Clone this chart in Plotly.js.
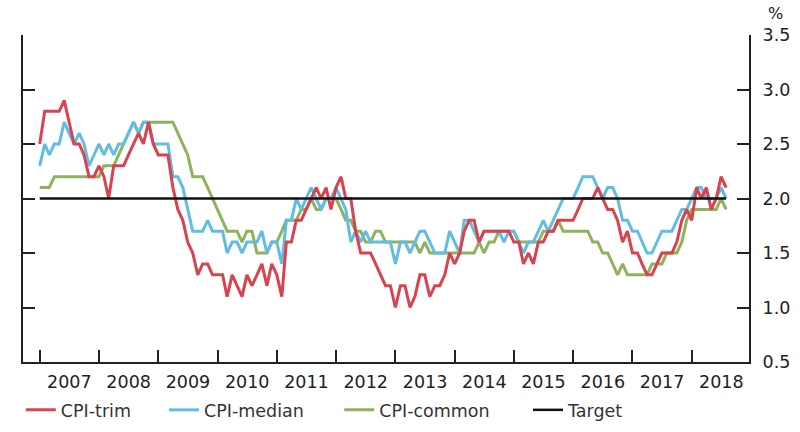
<!DOCTYPE html>
<html>
<head>
<meta charset="utf-8">
<script src="https://cdn.plot.ly/plotly-3.0.1.min.js"></script>
<style>html,body{margin:0;padding:0;background:#fff;}#chart{width:800px;height:432px;}</style>
</head>
<body>
<div id="chart"></div>
<script>
// Monthly observations, Jan 2007 onwards (%)
const startYear = 2007;
const cpiTrim = [
  2.5, 2.8, 2.8, 2.8, 2.8, 2.9, 2.7, 2.5, 2.5, 2.4, 2.2, 2.2,
  2.3, 2.2, 2.0, 2.3, 2.3, 2.3, 2.4, 2.5, 2.6, 2.5, 2.7, 2.5,
  2.4, 2.4, 2.4, 2.1, 1.9, 1.8, 1.6, 1.5, 1.3, 1.4, 1.4, 1.3,
  1.3, 1.3, 1.1, 1.3, 1.2, 1.1, 1.3, 1.2, 1.3, 1.4, 1.2, 1.4,
  1.3, 1.1, 1.6, 1.6, 1.8, 1.8, 1.9, 2.0, 2.1, 2.0, 2.1, 1.9,
  2.1, 2.2, 2.0, 2.0, 1.7, 1.5, 1.5, 1.5, 1.4, 1.3, 1.2, 1.2,
  1.0, 1.2, 1.2, 1.0, 1.1, 1.3, 1.3, 1.1, 1.2, 1.2, 1.3, 1.5,
  1.4, 1.5, 1.7, 1.8, 1.8, 1.6, 1.7, 1.7, 1.7, 1.7, 1.7, 1.7,
  1.6, 1.6, 1.4, 1.5, 1.4, 1.6, 1.6, 1.7, 1.7, 1.8, 1.8, 1.8,
  1.8, 1.9, 2.0, 2.0, 2.0, 2.1, 2.0, 1.9, 1.9, 1.8, 1.6, 1.7,
  1.5, 1.5, 1.4, 1.3, 1.3, 1.4, 1.5, 1.5, 1.5, 1.6, 1.8, 1.9,
  1.8, 2.1, 2.0, 2.1, 1.9, 2.0, 2.2, 2.1
];
const cpiMedian = [
  2.3, 2.5, 2.4, 2.5, 2.5, 2.7, 2.6, 2.5, 2.6, 2.5, 2.3, 2.4,
  2.5, 2.4, 2.5, 2.4, 2.5, 2.5, 2.6, 2.7, 2.6, 2.7, 2.7, 2.5,
  2.5, 2.5, 2.5, 2.2, 2.2, 2.1, 1.9, 1.7, 1.7, 1.7, 1.8, 1.7,
  1.7, 1.7, 1.5, 1.6, 1.6, 1.5, 1.6, 1.6, 1.6, 1.7, 1.5, 1.6,
  1.6, 1.4, 1.8, 1.8, 2.0, 1.9, 2.0, 2.1, 2.0, 1.9, 2.0, 2.0,
  2.1, 2.0, 1.9, 1.6, 1.7, 1.6, 1.7, 1.6, 1.6, 1.6, 1.6, 1.6,
  1.4, 1.6, 1.6, 1.5, 1.6, 1.7, 1.7, 1.6, 1.5, 1.5, 1.5, 1.7,
  1.6, 1.5, 1.8, 1.8, 1.7, 1.6, 1.7, 1.7, 1.7, 1.7, 1.6, 1.7,
  1.7, 1.6, 1.5, 1.6, 1.6, 1.7, 1.8, 1.7, 1.8, 1.9, 2.0, 2.0,
  2.0, 2.1, 2.2, 2.2, 2.2, 2.1, 2.0, 2.1, 2.1, 2.0, 1.8, 1.8,
  1.7, 1.7, 1.6, 1.5, 1.5, 1.6, 1.7, 1.7, 1.7, 1.8, 1.9, 1.9,
  2.0, 2.1, 2.1, 2.0, 2.0, 2.0, 2.1, 2.0
];
const cpiCommon = [
  2.1, 2.1, 2.1, 2.2, 2.2, 2.2, 2.2, 2.2, 2.2, 2.2, 2.2, 2.2,
  2.2, 2.3, 2.3, 2.3, 2.4, 2.5, 2.6, 2.7, 2.6, 2.7, 2.7, 2.7,
  2.7, 2.7, 2.7, 2.7, 2.6, 2.5, 2.4, 2.2, 2.2, 2.2, 2.1, 2.0,
  1.9, 1.8, 1.7, 1.7, 1.7, 1.6, 1.7, 1.7, 1.5, 1.5, 1.5, 1.6,
  1.6, 1.7, 1.8, 1.8, 1.8, 1.9, 1.9, 2.0, 1.9, 1.9, 2.0, 2.0,
  2.0, 1.9, 1.8, 1.8, 1.7, 1.7, 1.6, 1.6, 1.7, 1.7, 1.6, 1.6,
  1.6, 1.6, 1.6, 1.6, 1.6, 1.5, 1.6, 1.5, 1.5, 1.5, 1.5, 1.5,
  1.5, 1.5, 1.5, 1.5, 1.5, 1.6, 1.5, 1.6, 1.6, 1.7, 1.7, 1.7,
  1.7, 1.6, 1.6, 1.6, 1.6, 1.6, 1.7, 1.7, 1.7, 1.8, 1.7, 1.7,
  1.7, 1.7, 1.7, 1.7, 1.6, 1.6, 1.5, 1.5, 1.4, 1.3, 1.4, 1.3,
  1.3, 1.3, 1.3, 1.3, 1.4, 1.4, 1.4, 1.5, 1.5, 1.5, 1.6, 1.8,
  1.9, 1.9, 1.9, 1.9, 1.9, 1.9, 2.0, 1.9
];
const targetValue = 2.0;
const seriesNames = ['CPI-trim', 'CPI-median', 'CPI-common', 'Target'];
const yearLabels = [2007, 2008, 2009, 2010, 2011, 2012, 2013, 2014, 2015, 2016, 2017, 2018];

function monthDate(i) {
  const y = startYear + Math.floor(i / 12);
  const m = (i % 12) + 1;
  return y + '-' + (m < 10 ? '0' + m : m) + '-01';
}
const dates = cpiTrim.map((_, i) => monthDate(i));

const colors = ['#d8434f', '#62bde2', '#8fb35c', '#111111'];
const legendIds = ['legend', 'legend2', 'legend3', 'legend4'];
const traces = [
  {x: dates, y: cpiCommon, name: seriesNames[2], line: {color: colors[2], width: 3}, legend: legendIds[2]},
  {x: dates, y: cpiMedian, name: seriesNames[1], line: {color: colors[1], width: 3}, legend: legendIds[1]},
  {x: dates, y: cpiTrim, name: seriesNames[0], line: {color: colors[0], width: 3}, legend: legendIds[0]},
  {x: [dates[0], dates[dates.length - 1]], y: [targetValue, targetValue], name: seriesNames[3],
   line: {color: colors[3], width: 2.5}, legend: legendIds[3]}
].map(t => Object.assign({type: 'scatter', mode: 'lines', hoverinfo: 'skip'}, t));

const fam = 'DejaVu Sans, Arial, sans-serif';
const font = {family: fam, size: 17.5, color: '#222'};
function leg(x) {
  return {orientation: 'h', xref: 'container', yref: 'container', x: x, y: 0.051,
          xanchor: 'left', yanchor: 'middle', itemwidth: 30,
          font: {family: fam, size: 17.5, color: '#333'}, bgcolor: 'rgba(0,0,0,0)'};
}
const layout = {
  width: 800, height: 432,
  margin: {l: 23, r: 51, t: 35, b: 70, autoexpand: false},
  paper_bgcolor: '#fff', plot_bgcolor: '#fff',
  font: font,
  showlegend: true,
  legend: leg(0.026),
  legend2: leg(0.205),
  legend3: leg(0.424),
  legend4: leg(0.66),
  xaxis: {
    type: 'date', range: ['2006-09-20', '2018-12-20'],
    tickmode: 'linear', tick0: yearLabels[0] + '-01-01', dtick: 'M12', tickformat: '%Y',
    ticklabelmode: 'period',
    ticks: 'inside', ticklen: 12, tickwidth: 2, tickcolor: '#222',
    showline: true, linecolor: '#222', linewidth: 2, showgrid: false, zeroline: false,
    ticklabelstandoff: 3, automargin: false
  },
  yaxis: {
    side: 'right', range: [0.5, 3.5], dtick: 0.5, tick0: 0.5, tickformat: '.1f',
    ticks: 'inside', ticklen: 12, tickwidth: 2, tickcolor: '#222',
    showline: true, linecolor: '#222', linewidth: 2, mirror: 'ticks',
    showgrid: false, zeroline: false, ticklabelstandoff: 8, automargin: false
  },
  annotations: [{text: '%', xref: 'paper', yref: 'paper', x: 1.0, xshift: 26, y: 1, yshift: 22,
                 showarrow: false, xanchor: 'center', yanchor: 'middle', font: {size: 16, color: '#222'}}]
};

Plotly.newPlot('chart', traces, layout, {staticPlot: true, displayModeBar: false});
</script>
</body>
</html>
